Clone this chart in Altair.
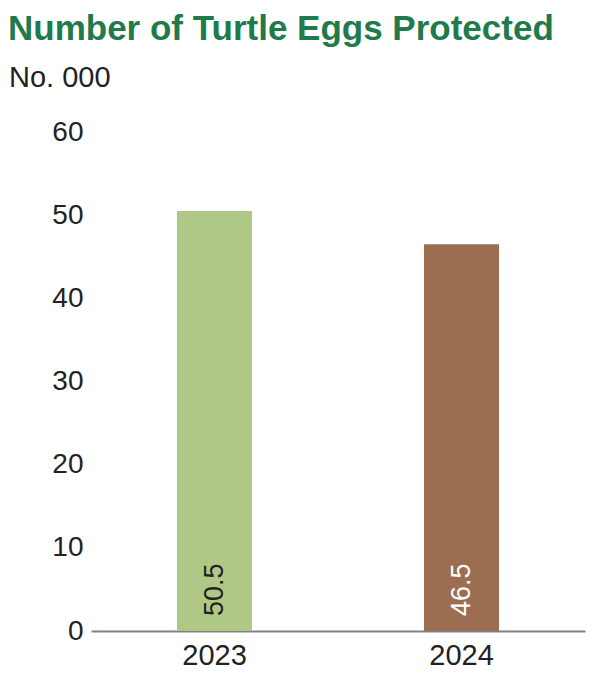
import altair as alt
import pandas as pd

years = ["2023", "2024"]
values = [50.5, 46.5]
bar_colors = ["#afc886", "#9c6e51"]
label_colors = ["#222222", "#ffffff"]
title_text = "Number of  Turtle Eggs Protected"
unit_text = "No. 000"
y_ticks = [0, 10, 20, 30, 40, 50, 60]

df = pd.DataFrame({"year": years, "value": values})

FONT = "Liberation Sans"

x_enc = alt.X(
    "year:N",
    sort=years,
    scale=alt.Scale(paddingInner=0.696, paddingOuter=0.348),
    axis=alt.Axis(
        title=None, labelAngle=0, ticks=False, domainColor="#808080",
        domainWidth=2, labelFontSize=29, labelColor="#222222",
        labelFont=FONT, labelPadding=10,
    ),
)

bars = alt.Chart(df).mark_bar().encode(
    x=x_enc,
    y=alt.Y(
        "value:Q",
        scale=alt.Scale(domain=[0, 60], nice=False),
        axis=alt.Axis(
            title=None, values=y_ticks, ticks=False, domain=False, grid=False,
            labelFontSize=28, labelColor="#222222", labelFont=FONT,
            labelPadding=8,
        ),
    ),
    color=alt.Color("year:N", scale=alt.Scale(domain=years, range=bar_colors), legend=None),
)

labels = alt.Chart(df).mark_text(
    angle=270, align="left", baseline="middle", dx=15, fontSize=27, font=FONT
).encode(
    x=alt.X("year:N", sort=years),
    y=alt.datum(0),
    text=alt.Text("value:Q", format=".1f"),
    color=alt.Color("year:N", scale=alt.Scale(domain=years, range=label_colors), legend=None),
)

title_mark = alt.Chart(pd.DataFrame({"t": [title_text]})).mark_text(
    align="left", baseline="alphabetic", fontSize=35, fontWeight="bold",
    font=FONT, color="#217a4b",
).encode(x=alt.value(-83), y=alt.value(-92), text="t:N")

unit_mark = alt.Chart(pd.DataFrame({"t": [unit_text]})).mark_text(
    align="left", baseline="alphabetic", fontSize=29, font=FONT, color="#222222",
).encode(x=alt.value(-82), y=alt.value(-45), text="t:N")

chart = alt.layer(bars, labels, title_mark, unit_mark).resolve_scale(
    color="independent"
).properties(
    width=494, height=499,
    autosize=alt.AutoSizeParams(type="none"),
    padding={"left": 83, "top": 124, "right": 7, "bottom": 45},
).configure_view(stroke=None)

chart.save("out.html", embed_options={"renderer": "svg", "actions": False})
